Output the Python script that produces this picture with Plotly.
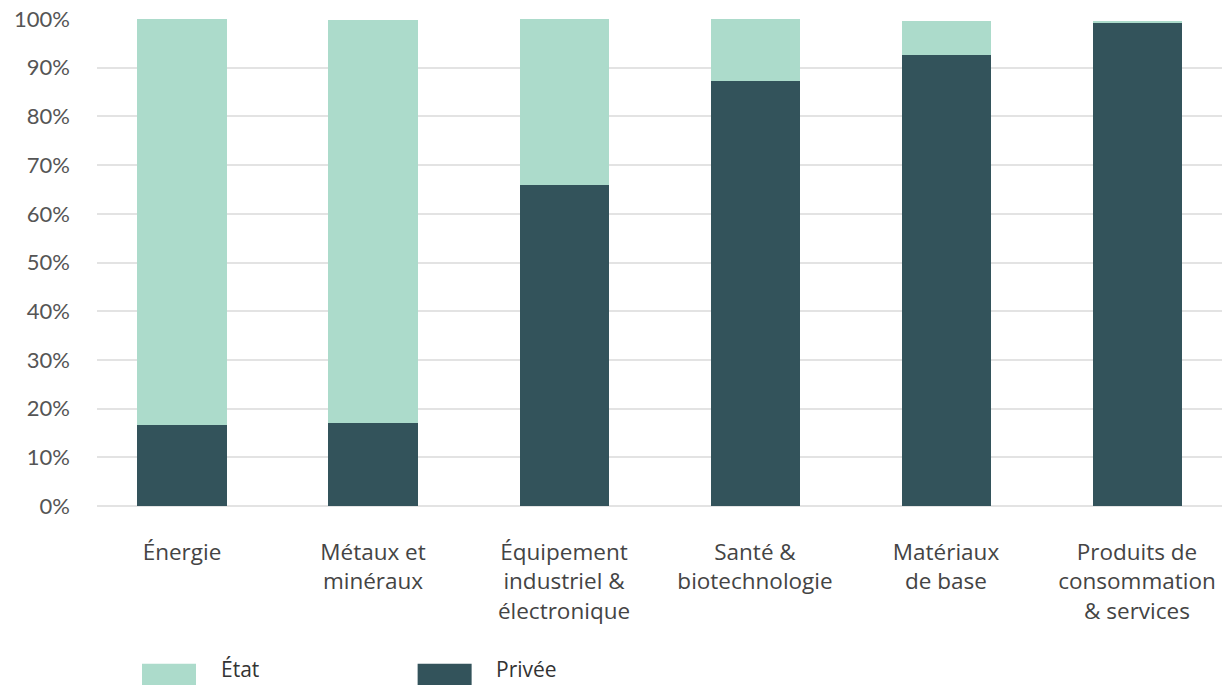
import plotly.graph_objects as go

categories = ["Énergie", "Métaux et<br>minéraux", "Équipement<br>industriel &<br>électronique",
              "Santé &<br>biotechnologie", "Matériaux<br>de base", "Produits de<br>consommation<br>& services"]
privee = [16.6, 17.0, 65.9, 87.3, 92.6, 99.2]
etat = [83.4, 82.8, 34.1, 12.7, 6.9, 0.4]
series_names = ["État", "Privée"]
tick_vals = [0, 10, 20, 30, 40, 50, 60, 70, 80, 90, 100]
tick_text = [f"{v}%" for v in tick_vals]

LIGHT = "#ACDBCB"
DARK = "#33535B"
x = list(range(len(categories)))

fig = go.Figure()
fig.add_trace(go.Bar(x=x, y=privee, name=series_names[1], marker_color=DARK, marker_line_width=0))
fig.add_trace(go.Bar(x=x, y=etat, name=series_names[0], marker_color=LIGHT, marker_line_width=0))

fig.update_layout(
    barmode="stack",
    bargap=0.534,
    width=1225, height=685,
    margin=dict(l=97, r=3, t=19, b=179),
    plot_bgcolor="white", paper_bgcolor="white",
    showlegend=False,
    font=dict(family="Open Sans", color="#444444"),
)
fig.update_xaxes(
    tickvals=x, ticktext=categories, range=[-0.445, 5.445],
    showgrid=False, zeroline=False, showline=False,
    tickfont=dict(family="Open Sans", size=22.5, color="#444444"),
    ticks="outside", ticklen=26, tickcolor="rgba(0,0,0,0)",
)
fig.update_yaxes(
    range=[0, 100], tickvals=tick_vals, ticktext=tick_text,
    showgrid=True, gridcolor="#E3E3E3", gridwidth=1.5,
    zeroline=True, zerolinecolor="#E3E3E3", zerolinewidth=1.5,
    tickfont=dict(family="Lato", size=22, color="#555555"),
    ticklabelstandoff=26,
)

# manual legend
legend_items = [(series_names[0], LIGHT, 0.040, 0.109), (series_names[1], DARK, 0.285, 0.354)]
for name, col, x0, tx in legend_items:
    fig.add_shape(type="rect", xref="paper", yref="paper", x0=x0, x1=x0 + 0.048,
                  y0=-0.375, y1=-0.324, fillcolor=col, line_width=0)
    fig.add_annotation(xref="paper", yref="paper", x=tx, y=-0.334, text=name, showarrow=False,
                       xanchor="left", yanchor="middle", borderpad=0,
                       font=dict(family="Open Sans", size=21, color="#333333"))

fig.write_html("out.html")
